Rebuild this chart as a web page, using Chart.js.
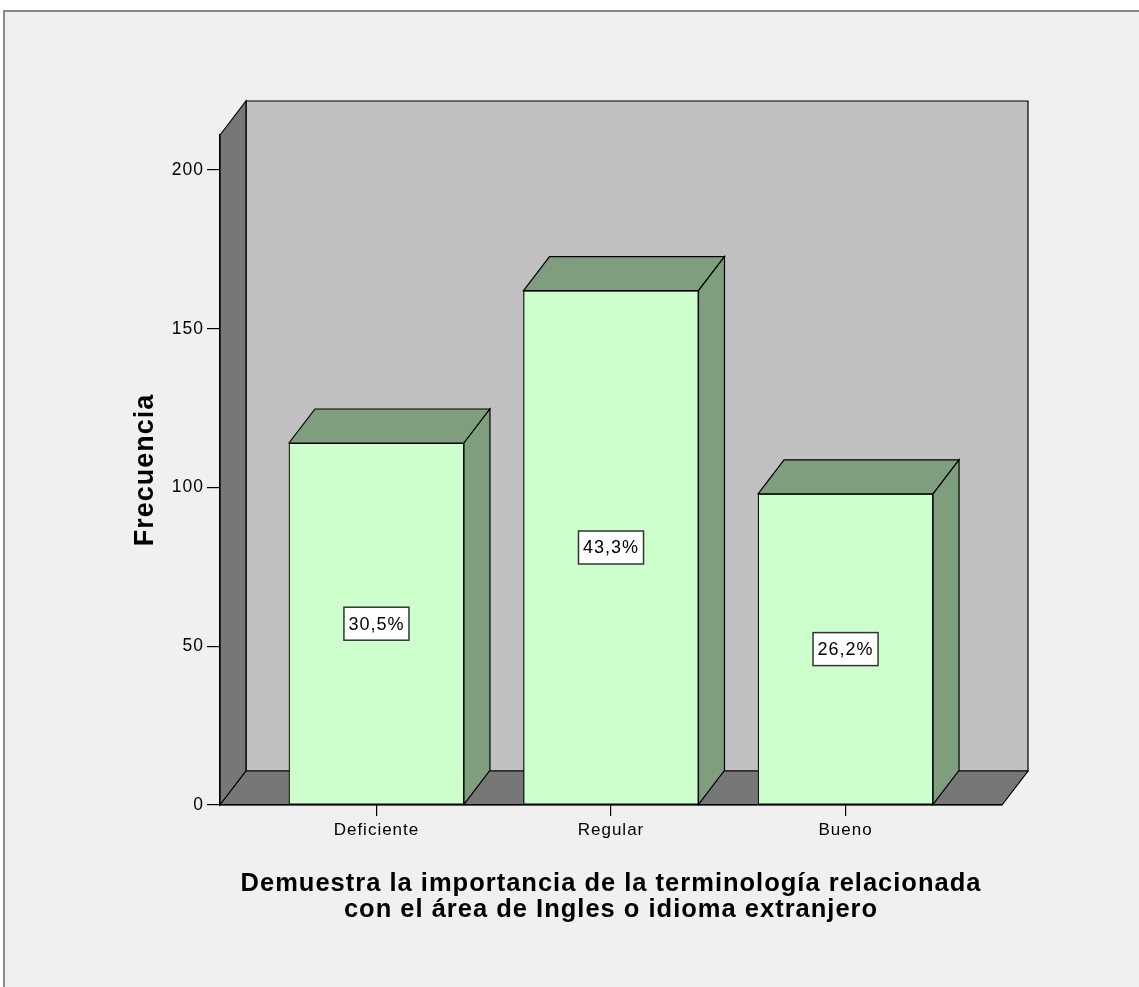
<!DOCTYPE html>
<html>
<head>
<meta charset="utf-8">
<script src="https://cdn.jsdelivr.net/npm/chart.js"></script>
<style>
  html, body { margin: 0; padding: 0; background: #ffffff; }
  canvas { display: block; }
</style>
</head>
<body>
<canvas id="freqChart" width="1139" height="987"></canvas>
<script>
// ======= DATA =======
const categories = ['Deficiente', 'Regular', 'Bueno'];
const frequencies = [114, 162, 98];
const percentLabels = ['30,5%', '43,3%', '26,2%'];
const yTickValues = [0, 50, 100, 150, 200];

const xTitle = [
  'Demuestra la importancia de la terminología relacionada',
  'con el área de Ingles o idioma extranjero'
];
const yTitle = 'Frecuencia';

// ======= 3D LOOK =======
const DX = 26, DY = -34;
const FONT = '"Liberation Sans", Arial, sans-serif';

function poly(ctx, pts, fill) {
  ctx.beginPath();
  ctx.moveTo(pts[0][0], pts[0][1]);
  for (let i = 1; i < pts.length; i++) ctx.lineTo(pts[i][0], pts[i][1]);
  ctx.closePath();
  ctx.fillStyle = fill;
  ctx.fill();
  ctx.strokeStyle = '#000';
  ctx.lineWidth = 1.2;
  ctx.stroke();
}

const box3d = {
  id: 'box3d',
  beforeUpdate(chart) { chart.ctx.letterSpacing = '1px'; },
  beforeDraw(chart) {
    const ctx = chart.ctx;
    const a = chart.chartArea;
    const W = chart.width, H = chart.height;
    ctx.save();
    ctx.fillStyle = '#ffffff';
    ctx.fillRect(0, 0, W, H);
    ctx.fillStyle = '#f0f0f0';
    ctx.fillRect(5, 12, W, H);
    // outer frame
    ctx.strokeStyle = '#8a8a8a';
    ctx.lineWidth = 2;
    ctx.beginPath();
    ctx.moveTo(4, H);
    ctx.lineTo(4, 11);
    ctx.lineTo(W, 11);
    ctx.stroke();

    const L = a.left, R = a.right, T = a.top, B = a.bottom;
    // back wall
    poly(ctx, [[L + DX, T + DY], [R + DX, T + DY], [R + DX, B + DY], [L + DX, B + DY]], '#c0c0c0');
    // side wall
    poly(ctx, [[L, T], [L + DX, T + DY], [L + DX, B + DY], [L, B]], '#777777');
    // floor
    poly(ctx, [[L, B], [L + DX, B + DY], [R + DX, B + DY], [R, B]], '#777777');
    ctx.restore();
    ctx.letterSpacing = '1px';
  },
  afterDatasetsDraw(chart) {
    const ctx = chart.ctx;
    const meta = chart.getDatasetMeta(0);
    ctx.save();
    meta.data.forEach((bar, i) => {
      const p = bar.getProps(['x', 'y', 'base', 'width'], true);
      const l = p.x - p.width / 2, r = p.x + p.width / 2;
      poly(ctx, [[l, p.y], [l + DX, p.y + DY], [r + DX, p.y + DY], [r, p.y]], '#7e9e7e');
      poly(ctx, [[r, p.y], [r + DX, p.y + DY], [r + DX, p.base + DY], [r, p.base]], '#7e9e7e');

      // percentage label box
      const cy = (p.y + p.base) / 2;
      ctx.letterSpacing = '1px';
      ctx.font = '18px ' + FONT;
      const tw = ctx.measureText(percentLabels[i]).width;
      const bw = tw + 9, bh = 33;
      ctx.fillStyle = '#ffffff';
      ctx.fillRect(p.x - bw / 2, cy - bh / 2, bw, bh);
      ctx.strokeStyle = '#333';
      ctx.lineWidth = 1.5;
      ctx.strokeRect(p.x - bw / 2, cy - bh / 2, bw, bh);
      ctx.fillStyle = '#000';
      ctx.textAlign = 'center';
      ctx.textBaseline = 'middle';
      ctx.fillText(percentLabels[i], p.x, cy + 1);
    });
    ctx.restore();
  }
};

Chart.defaults.font.family = FONT;
Chart.defaults.color = '#000';

const ctx = document.getElementById('freqChart').getContext('2d');
new Chart(ctx, {
  type: 'bar',
  data: {
    datasets: [{
      label: 'Frecuencia',
      data: frequencies.map((v, i) => ({ x: i, y: v })),
      backgroundColor: '#ccffcc',
      borderColor: '#000',
      borderWidth: 1.2,
      borderSkipped: false,
      barThickness: 175
    }]
  },
  options: {
    responsive: false,
    animation: false,
    layout: { padding: { top: 135, right: 137, bottom: 0, left: 0 } },
    plugins: {
      legend: { display: false },
      tooltip: { enabled: false }
    },
    scales: {
      x: {
        type: 'linear',
        offset: false,
        min: -0.667,
        max: 2.667,
        afterBuildTicks: s => { s.ticks = categories.map((c, i) => ({ value: i })); },
        afterFit: s => { s.height = 182; },
        ticks: {
          callback: v => categories[v],
          font: { size: 17 },
          color: '#000',
          padding: 4,
          maxRotation: 0
        },
        grid: { offset: false, drawOnChartArea: false, drawTicks: true, tickLength: 11, color: '#000', lineWidth: 1.2 },
        border: { display: true, color: '#000', width: 1.2 },
        title: {
          display: true,
          text: xTitle,
          font: { size: 25.5, weight: 'bold', lineHeight: 1.02 },
          color: '#000',
          padding: { top: 0, bottom: 64 }
        }
      },
      y: {
        min: 0,
        max: 211,
        afterBuildTicks: s => { s.ticks = yTickValues.map(v => ({ value: v })); },
        afterFit: s => { s.width = 220; },
        ticks: { font: { size: 17.5 }, color: '#000', padding: 3 },
        grid: { drawOnChartArea: false, drawTicks: true, tickLength: 13, color: '#000', lineWidth: 1.2 },
        border: { display: true, color: '#000', width: 1.2 },
        title: {
          display: true,
          text: yTitle,
          font: { size: 27, weight: 'bold' },
          color: '#000',
          padding: { top: 129, bottom: 0 }
        }
      }
    }
  },
  plugins: [box3d]
});
</script>
</body>
</html>
